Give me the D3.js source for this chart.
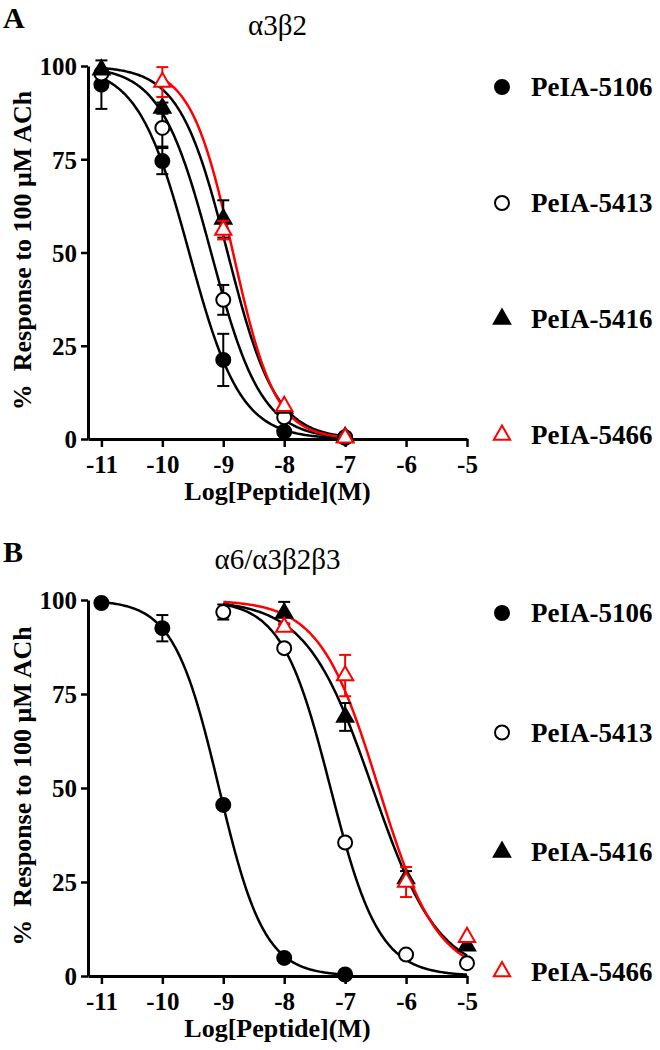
<!DOCTYPE html>
<html><head><meta charset="utf-8">
<script src="https://cdn.jsdelivr.net/npm/d3@7"></script>
<style>
body{margin:0;background:#fff}
svg text{font-family:"Liberation Serif","Times New Roman",serif}
</style>
</head><body><svg id="c" width="660" height="1050"></svg>
<script>
// ---------- data ----------
const seriesNames = ["PeIA-5106", "PeIA-5413", "PeIA-5416", "PeIA-5466"];
const seriesColors = ["#000", "#000", "#000", "#f00"];
const seriesShapes = ["circle", "circle", "triangle", "triangle"];
const seriesFilled = [true, false, true, false];
const xTicks = [-11, -10, -9, -8, -7, -6, -5];
const yTicks = [0, 25, 50, 75, 100];
const xLabel = "Log[Peptide](M)";
const yLabel = "%  Response to 100 μM ACh";

// Panel A: α3β2
const aLetter = "A";
const aTitle = "α3β2";
const aX5106 = [-11, -10, -9, -8, -7];
const aY5106 = [95, 74.5, 21.2, 2.0, 0.3];
const aE5106 = [6.5, 3.5, 7, 0, 0];
const aX5413 = [-11, -10, -9, -8, -7];
const aY5413 = [98, 83.4, 37.3, 5.8, 0.5];
const aE5413 = [0, 5, 4, 0, 0];
const aX5416 = [-11, -10, -9, -8, -7];
const aY5416 = [99, 88.7, 59, 8.3, 0.5];
const aE5416 = [0, 1.5, 5, 0, 0];
const aX5466 = [-10, -9, -8, -7];
const aY5466 = [95.7, 56, 8.8, 0.3];
const aE5466 = [4, 2.5, 0, 0];
const aLogIC50 = [-9.56, -9.2, -8.93, -8.84];
const aHill = [1.03, 1.05, 1.1, 1.25];
const aCurveFrom = [-11, -11, -11, -10];
const aCurveTo = [-7, -7, -7, -7];

// Panel B: α6/α3β2β3
const bLetter = "B";
const bTitle = "α6/α3β2β3";
const bX5106 = [-11, -10, -9, -8, -7];
const bY5106 = [99.2, 92.5, 45.5, 4.8, 0.4];
const bE5106 = [0, 3.5, 0, 0, 0];
const bX5413 = [-9, -8, -7, -6, -5];
const bY5413 = [96.8, 87.2, 35.5, 5.7, 3.4];
const bE5413 = [2, 0, 0, 0, 0];
const bX5416 = [-8, -7, -6, -5];
const bY5416 = [96.5, 68.9, 25.9, 8];
const bE5416 = [3, 3.7, 2, 0];
const bX5466 = [-8, -7, -6, -5];
const bY5466 = [92.8, 79.9, 25, 10.3];
const bE5466 = [1, 5.5, 4, 0];
const bLogIC50 = [-9.07, -7.24, -6.55, -6.45];
const bHill = [1.17, 1.09, 0.8, 0.9];
const bCurveFrom = [-11, -9, -9, -9];
const bCurveTo = [-7, -5, -5, -5];

// ---------- build ----------
const zip = (xs, ys, es) => xs.map((x, i) => ({x, y: ys[i], e: es[i]}));
const panels = [
  {letter: aLetter, title: aTitle, top: 66, bottom: 439, legTop: 87, legStep: 116,
   series: [zip(aX5106, aY5106, aE5106), zip(aX5413, aY5413, aE5413), zip(aX5416, aY5416, aE5416), zip(aX5466, aY5466, aE5466)],
   ic50: aLogIC50, hill: aHill, from: aCurveFrom, to: aCurveTo},
  {letter: bLetter, title: bTitle, top: 600, bottom: 976, legTop: 613, legStep: 119.5,
   series: [zip(bX5106, bY5106, bE5106), zip(bX5413, bY5413, bE5413), zip(bX5416, bY5416, bE5416), zip(bX5466, bY5466, bE5466)],
   ic50: bLogIC50, hill: bHill, from: bCurveFrom, to: bCurveTo}
];

const svg = d3.select("#c");
const axisLeftX = 88, axisRightX = 467;
const triArea = 115;

function drawMarker(g, shape, filled, color, x, y) {
  if (shape === "circle") {
    g.append("circle").attr("cx", x).attr("cy", y).attr("r", 7)
      .attr("fill", filled ? color : "#fff").attr("stroke", color).attr("stroke-width", 2);
  } else {
    g.append("path").attr("d", d3.symbol(d3.symbolTriangle, triArea)())
      .attr("transform", `translate(${x},${y})`)
      .attr("fill", filled ? color : "#fff").attr("stroke", color).attr("stroke-width", 2)
      .attr("stroke-linejoin", "miter");
  }
}

panels.forEach(p => {
  const x = d3.scaleLinear().domain([-11.22, -5]).range([axisLeftX, axisRightX]);
  const y = d3.scaleLinear().domain([0, 100]).range([p.bottom, p.top]);
  const g = svg.append("g");

  // letter & title
  g.append("text").attr("x", 3).attr("y", p.top - 38).attr("font-size", 30).attr("font-weight", "bold").text(p.letter);
  g.append("text").attr("x", (axisLeftX + axisRightX) / 2).attr("y", p.top - 31).attr("text-anchor", "middle")
    .attr("font-size", 29).text(p.title);

  // axes
  const xa = g.append("g").attr("transform", `translate(0,${p.bottom})`)
    .call(d3.axisBottom(x).tickValues(xTicks).tickSize(8).tickSizeOuter(0).tickPadding(8).tickFormat(d3.format("d")));
  const ya = g.append("g").attr("transform", `translate(${axisLeftX},0)`)
    .call(d3.axisLeft(y).tickValues(yTicks).tickSize(7).tickSizeOuter(0).tickPadding(4).tickFormat(d3.format("d")));
  [xa, ya].forEach(a => {
    a.select(".domain").attr("stroke", "#000").attr("stroke-width", 3);
    a.selectAll(".tick line").attr("stroke", "#000").attr("stroke-width", 2.5);
    a.selectAll(".tick text").attr("fill", "#000").attr("font-size", 25).attr("font-weight", "bold")
      .attr("font-family", '"Liberation Serif","Times New Roman",serif');
  });
  xa.selectAll(".tick text").text(d => d3.format("d")(d).replace("−", "-"));
  ya.selectAll(".tick text").attr("dy", "0.35em");

  // axis titles
  g.append("text").attr("x", (axisLeftX + axisRightX) / 2).attr("y", p.bottom + 61).attr("text-anchor", "middle")
    .attr("font-size", 26).attr("font-weight", "bold").text(xLabel);
  g.append("text").attr("transform", `translate(31,${(p.top + p.bottom) / 2 - 2}) rotate(-90)`)
    .attr("text-anchor", "middle").attr("font-size", 26).attr("font-weight", "bold")
    .style("white-space", "pre").text(yLabel);

  // curves
  const line = d3.line().x(d => x(d[0])).y(d => y(d[1])).curve(d3.curveLinear);
  p.series.forEach((s, i) => {
    const pts = d3.range(p.from[i], p.to[i] + 0.0001, 0.02).map(lx =>
      [lx, 100 / (1 + Math.pow(10, p.hill[i] * (lx - p.ic50[i])))]);
    g.append("path").attr("d", line(pts)).attr("fill", "none")
      .attr("stroke", seriesColors[i]).attr("stroke-width", 2.5);
  });

  // error bars + markers
  p.series.forEach((s, i) => {
    const col = seriesColors[i];
    s.forEach(d => {
      if (d.e > 0) {
        const cx = x(d.x), y1 = y(d.y + d.e), y2 = y(d.y - d.e);
        g.append("line").attr("x1", cx).attr("x2", cx).attr("y1", y1).attr("y2", y2).attr("stroke", col).attr("stroke-width", 2);
        [y1, y2].forEach(yy => g.append("line").attr("x1", cx - 6).attr("x2", cx + 6).attr("y1", yy).attr("y2", yy)
          .attr("stroke", col).attr("stroke-width", 2));
      }
    });
    s.forEach(d => drawMarker(g, seriesShapes[i], seriesFilled[i], col, x(d.x), y(d.y)));
  });

  // legend
  seriesNames.forEach((name, i) => {
    const ly = p.legTop + i * p.legStep;
    drawMarker(g, seriesShapes[i], seriesFilled[i], seriesColors[i], 502, ly);
    g.append("text").attr("x", 531).attr("y", ly).attr("dy", "0.35em").attr("font-size", 27)
      .attr("font-weight", "bold").text(name);
  });
});
</script>
</body></html>
